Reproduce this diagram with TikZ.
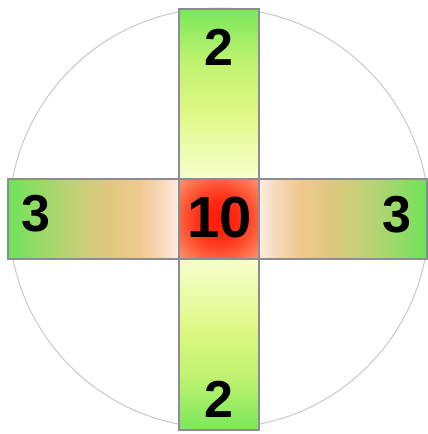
\documentclass[tikz,border=0pt]{standalone}
\usepackage{fontspec}
\setmainfont{Liberation Sans}
\definecolor{h0}{RGB}{110,226,90}
\definecolor{h1}{RGB}{152,218,104}
\definecolor{h2}{RGB}{200,208,120}
\definecolor{h3}{RGB}{224,200,128}
\definecolor{h4}{RGB}{240,200,144}
\definecolor{h5}{RGB}{248,220,192}
\definecolor{h6}{RGB}{252,238,226}
\definecolor{v0}{RGB}{122,232,92}
\definecolor{v1}{RGB}{190,242,110}
\definecolor{v2}{RGB}{222,248,132}
\definecolor{v3}{RGB}{248,255,204}
\definecolor{r0}{RGB}{255,26,6}
\definecolor{r1}{RGB}{255,40,16}
\definecolor{r2}{RGB}{255,66,38}
\definecolor{r3}{RGB}{255,100,64}
\definecolor{r4}{RGB}{250,150,110}
\definecolor{lineC}{RGB}{140,140,148}
\definecolor{circC}{RGB}{200,200,200}
\pgfdeclareradialshading{hot}{\pgfpoint{0bp}{0bp}}{color(0bp)=(r0); color(10bp)=(r1); color(18bp)=(r2); color(25bp)=(r3); color(35bp)=(r4); color(50bp)=(r4)}
\tikzset{
  bar/.style={draw=lineC, line width=1.2pt},
  num/.style={font=\fontsize{52}{52}\selectfont\bfseries, inner sep=0pt, text=black},
  big/.style={font=\fontsize{58}{58}\selectfont\bfseries, inner sep=0pt, text=black}
}
\newcommand{\hseg}[4]{\shade[left color=#3, right color=#4] (#1,179) rectangle (#2,259);}
\newcommand{\vseg}[4]{\shade[top color=#3, bottom color=#4] (179,#1) rectangle (259,#2);}
\begin{document}
\begin{tikzpicture}[x=1pt,y=-1pt]
\useasboundingbox (0,0) rectangle (428,434);
\draw[circC, line width=1pt] (219,218) circle (210);
% vertical bar, top
\vseg{9}{60.5}{v0}{v1}
\vseg{60}{110.5}{v1}{v2}
\vseg{110}{179}{v2}{v3}
% vertical bar, bottom
\vseg{259}{328.5}{v3}{v2}
\vseg{328}{378.5}{v2}{v1}
\vseg{378}{430}{v1}{v0}
% horizontal bar, left
\hseg{8}{40.5}{h0}{h1}
\hseg{40}{80.5}{h1}{h2}
\hseg{80}{110.5}{h2}{h3}
\hseg{110}{140.5}{h3}{h4}
\hseg{140}{165.5}{h4}{h5}
\hseg{165}{179}{h5}{h6}
% horizontal bar, right
\hseg{259}{273.5}{h6}{h5}
\hseg{273}{298.5}{h5}{h4}
\hseg{298}{328.5}{h4}{h3}
\hseg{328}{358.5}{h3}{h2}
\hseg{358}{398.5}{h2}{h1}
\hseg{398}{427}{h1}{h0}
% center
\shade[shading=hot] (179,179) rectangle (259,259);
% outlines
\draw[bar] (179,9) rectangle (259,430);
\draw[bar] (8,179) rectangle (427,259);
\node[num] (top) at (219,47) {2};
\node[num] (bottom) at (219,399) {2};
\node[num] (left) at (36,214) {3};
\node[num] (right) at (397,215) {3};
\node[big] (mid) at (220,218) {10};
\end{tikzpicture}
\end{document}
